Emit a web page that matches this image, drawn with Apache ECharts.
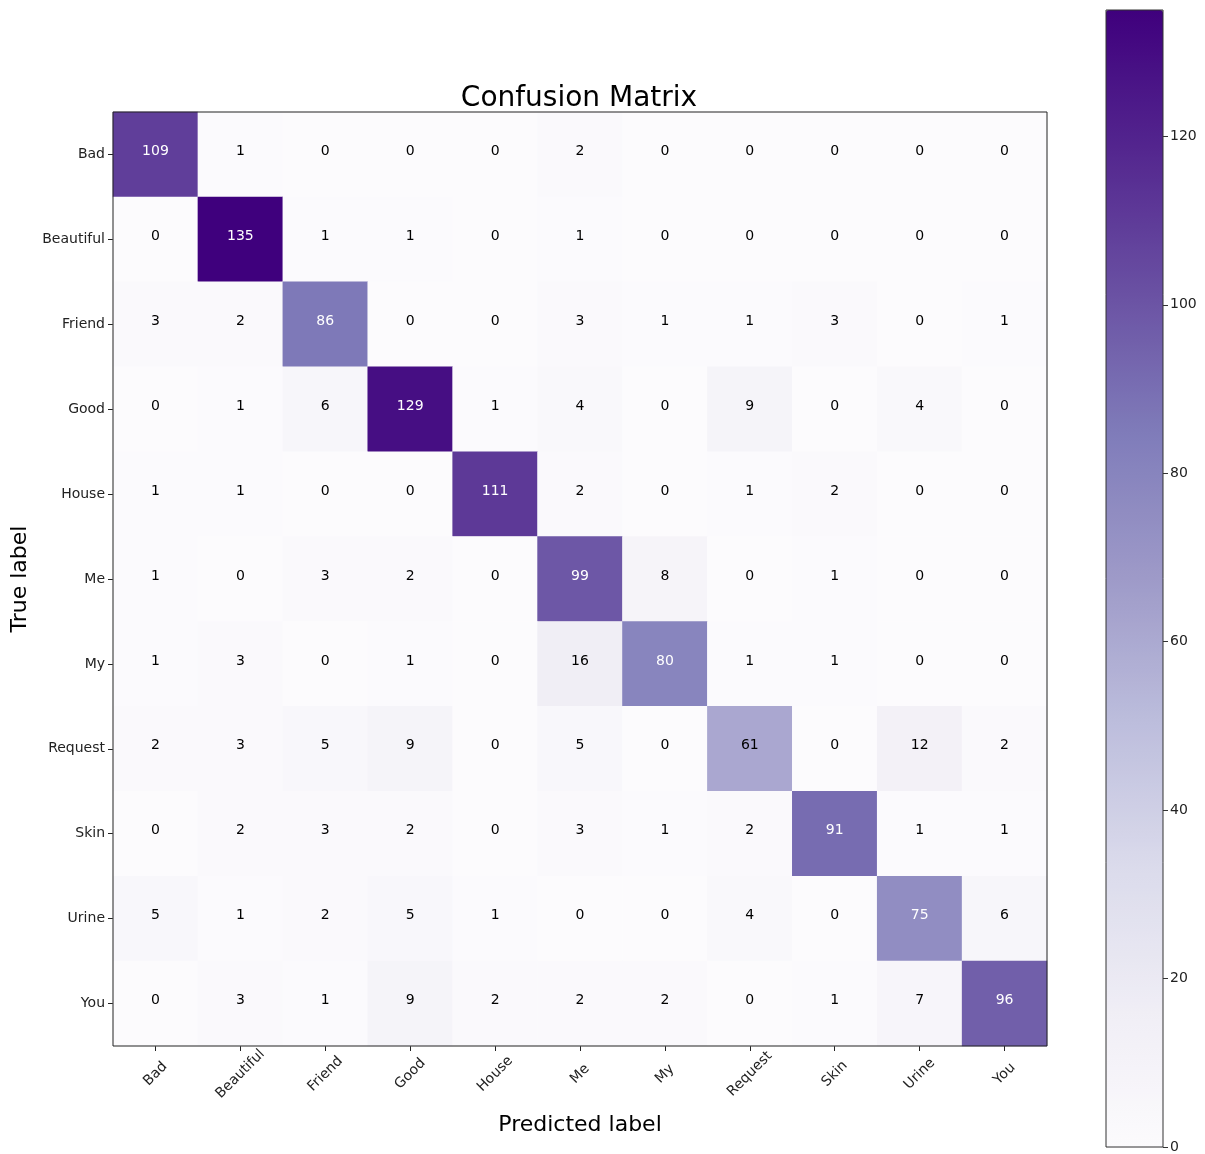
<!DOCTYPE html>
<html>
<head>
<meta charset="utf-8">
<script src="https://cdn.jsdelivr.net/npm/echarts@6/dist/echarts.min.js"></script>
<style>
  html, body { margin: 0; padding: 0; background: #fff; }
  #main { width: 1205px; height: 1154px; }
</style>
</head>
<body>
<div id="main"></div>
<script>
// class names, same order on both axes
const labels = ['Bad', 'Beautiful', 'Friend', 'Good', 'House', 'Me', 'My', 'Request', 'Skin', 'Urine', 'You'];

// one row per true label, columns = predicted label
const rowBad       = [109, 1, 0, 0, 0, 2, 0, 0, 0, 0, 0];
const rowBeautiful = [0, 135, 1, 1, 0, 1, 0, 0, 0, 0, 0];
const rowFriend    = [3, 2, 86, 0, 0, 3, 1, 1, 3, 0, 1];
const rowGood      = [0, 1, 6, 129, 1, 4, 0, 9, 0, 4, 0];
const rowHouse     = [1, 1, 0, 0, 111, 2, 0, 1, 2, 0, 0];
const rowMe        = [1, 0, 3, 2, 0, 99, 8, 0, 1, 0, 0];
const rowMy        = [1, 3, 0, 1, 0, 16, 80, 1, 1, 0, 0];
const rowRequest   = [2, 3, 5, 9, 0, 5, 0, 61, 0, 12, 2];
const rowSkin      = [0, 2, 3, 2, 0, 3, 1, 2, 91, 1, 1];
const rowUrine     = [5, 1, 2, 5, 1, 0, 0, 4, 0, 75, 6];
const rowYou       = [0, 3, 1, 9, 2, 2, 2, 0, 1, 7, 96];

const colorbarTicks = [0, 20, 40, 60, 80, 100, 120];

const rows = [rowBad, rowBeautiful, rowFriend, rowGood, rowHouse, rowMe, rowMy, rowRequest, rowSkin, rowUrine, rowYou];

const vmax = Math.max(...rows.map(r => Math.max(...r)));
const thresh = vmax / 2;

// matplotlib "Purples"
const purples = ['#fcfbfd', '#efedf5', '#dadaeb', '#bcbddc', '#9e9ac8', '#807dba', '#6a51a3', '#54278f', '#3f007d'];

const cells = [];
rows.forEach((row, i) => {
  row.forEach((v, j) => {
    cells.push({
      value: [j, i, v],
      label: { color: v > thresh ? '#ffffff' : '#000000' }
    });
  });
});

const font = 'DejaVu Sans';
const chart = echarts.init(document.getElementById('main'));

const option = {
  backgroundColor: '#fff',
  animation: false,
  textStyle: { fontFamily: font },
  title: {
    text: 'Confusion Matrix',
    left: 574,
    textAlign: 'center',
    top: 80,
    textStyle: { fontFamily: font, fontSize: 28, fontWeight: 'normal', color: '#000' }
  },
  grid: [
    {
      left: 113, top: 112, width: 934, height: 934,
      show: true, borderColor: '#222', borderWidth: 1, backgroundColor: 'transparent', z: 10
    },
    {
      left: 1106, top: 10, width: 57, height: 1138,
      show: true, borderColor: '#333', borderWidth: 1, backgroundColor: 'transparent', z: 10
    }
  ],
  xAxis: [
    {
      type: 'category',
      gridIndex: 0,
      data: labels,
      position: 'bottom',
      name: 'Predicted label',
      nameLocation: 'middle',
      nameGap: 68,
      nameTextStyle: { fontFamily: font, fontSize: 22, color: '#000' },
      axisLine: { show: false },
      axisTick: { show: true, alignWithLabel: true, length: 5, lineStyle: { color: '#222' } },
      axisLabel: {
        rotate: 45, fontSize: 14, color: '#222', margin: 28, interval: 0,
        align: 'center', verticalAlign: 'middle'
      },
      splitLine: { show: false }
    },
    {
      type: 'category',
      gridIndex: 1,
      data: [''],
      show: false
    }
  ],
  yAxis: [
    {
      type: 'category',
      gridIndex: 0,
      data: labels,
      inverse: true,
      name: 'True label',
      nameLocation: 'middle',
      nameGap: 78,
      nameTextStyle: { fontFamily: font, fontSize: 22, color: '#000' },
      axisLine: { show: false },
      axisTick: { show: true, alignWithLabel: true, length: 5, lineStyle: { color: '#222' } },
      axisLabel: { fontSize: 14, color: '#222', margin: 8, interval: 0 },
      splitLine: { show: false }
    },
    {
      type: 'value',
      gridIndex: 1,
      min: 0,
      max: vmax,
      position: 'right',
      z: 10,
      axisLine: { show: false, onZero: false },
      axisTick: { show: true, inside: false, length: 5, lineStyle: { color: '#333' }, customValues: colorbarTicks },
      axisLabel: { fontSize: 14, color: '#222', margin: 7, customValues: colorbarTicks },
      splitLine: { show: false }
    }
  ],
  visualMap: {
    type: 'continuous',
    min: 0,
    max: vmax,
    seriesIndex: 0,
    dimension: 2,
    calculable: false,
    orient: 'vertical',
    left: 1106,
    top: 10,
    padding: 0,
    itemWidth: 57,
    itemHeight: 1138,
    text: null,
    inRange: { color: purples }
  },
  series: [
    {
      type: 'heatmap',
      xAxisIndex: 0,
      yAxisIndex: 0,
      data: cells,
      label: { show: true, fontSize: 14, fontFamily: font, offset: [0, -3] },
      emphasis: { disabled: true }
    }
  ]
};

chart.setOption(option);
</script>
</body>
</html>
